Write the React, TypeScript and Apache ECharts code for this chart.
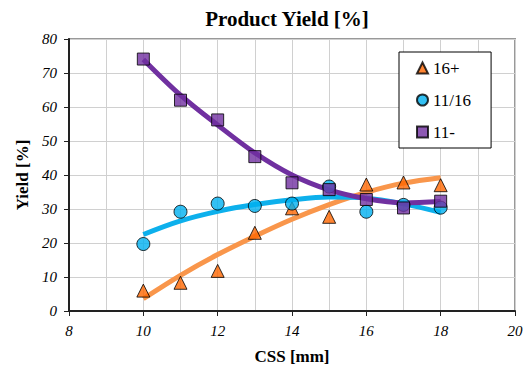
import React, { useEffect, useRef } from "react";
import * as echarts from "echarts";

const xValues = [10, 11, 12, 13, 14, 15, 16, 17, 18];
const seriesNames = ["16+", "11/16", "11-"];
const y16plus = [6, 8.3, 11.8, 23, 30.2, 27.7, 37.2, 37.8, 37];
const y11to16 = [19.7, 29.2, 31.6, 30.9, 31.6, 36.6, 29.2, 31.2, 30.4];
const y11minus = [74.1, 62, 56.2, 45.4, 37.7, 35.7, 32.8, 30.3, 32.3];
const trend16plus = [3.6, 10.5, 16.6, 22, 27, 31.3, 34.9, 37.6, 39.2];
const trend11to16 = [22.5, 26.5, 29.3, 31.3, 32.7, 33.5, 33.2, 31.5, 29];
const trend11minus = [74, 63.5, 54.7, 46.5, 40, 35.6, 33, 31.8, 32.2];
const xTicks = { min: 8, max: 20, step: 2 };
const yTicks = { min: 0, max: 80, step: 10 };

const FONT = "Liberation Serif";

const pairs = (ys: number[]) => xValues.map((x, i) => [x, ys[i]]);

export default function App() {
  const ref = useRef<HTMLDivElement>(null);
  useEffect(() => {
    if (!ref.current) return;
    const chart = echarts.init(ref.current, undefined, { renderer: "svg" });
    const markerColors = ["#FF6600", "#00B0F0", "#7030A0"];
    const trendColors = ["#F9964B", "#0DB0EC", "#7030A0"];
    const symbols = ["triangle", "circle", "rect"];
    const values = [y16plus, y11to16, y11minus];
    const trends = [trend16plus, trend11to16, trend11minus];

    const trendSeries = trends.map((t, i) => ({
      type: "line",
      name: seriesNames[i] + " trend",
      data: pairs(t),
      smooth: 0.35,
      showSymbol: false,
      symbol: "none",
      lineStyle: { width: 5, color: trendColors[i] },
      z: 2,
      silent: true,
    }));
    const markerSeries = values.map((v, i) => ({
      type: "scatter",
      name: seriesNames[i],
      data: pairs(v),
      symbol: symbols[i],
      symbolSize: i === 2 ? 12 : 13,
      itemStyle: { color: markerColors[i], borderColor: "#000", borderWidth: 1 },
      z: 3,
    }));

    chart.setOption({
      animation: false,
      backgroundColor: "#fff",
      textStyle: { fontFamily: FONT },
      graphic: [
        {
          type: "text",
          x: 287,
          y: 19,
          style: {
            text: "Product Yield [%]",
            fontFamily: FONT,
            fontSize: 21,
            fontWeight: "bold",
            fill: "#000",
            textAlign: "center",
            textVerticalAlign: "middle",
          },
        },
      ],
      grid: {
        left: 69,
        top: 39,
        right: 14,
        bottom: 55,
        show: true,
        containLabel: false,
        outerBoundsMode: "none",
        borderColor: "#999",
        borderWidth: 2,
        backgroundColor: "transparent",
      },
      legend: {
        orient: "vertical",
        left: 399,
        top: 52,
        padding: [7, 20, 7, 17],
        itemGap: 14,
        itemWidth: 11,
        itemHeight: 11,
        backgroundColor: "#fff",
        borderColor: "#000",
        borderWidth: 1,
        borderRadius: 0,
        data: seriesNames.map((n, i) => ({ name: n, icon: symbols[i] })),
        textStyle: { fontFamily: FONT, fontSize: 17, lineHeight: 18, color: "#000" },
      },
      xAxis: {
        type: "value",
        min: xTicks.min,
        max: xTicks.max,
        interval: xTicks.step,
        name: "CSS [mm]",
        nameLocation: "middle",
        nameGap: 37,
        nameTextStyle: { fontFamily: FONT, fontSize: 17, fontWeight: "bold", color: "#000" },
        axisLine: { show: true, onZero: false, lineStyle: { color: "#222", width: 2 } },
        axisTick: { show: true, inside: false, length: 5, lineStyle: { color: "#222" } },
        axisLabel: { fontFamily: FONT, fontSize: 15, fontStyle: "italic", color: "#000", margin: 12 },
        splitLine: { show: true, lineStyle: { color: "#d0d0d0", width: 1 } },
        minorTick: { show: false, splitNumber: 2 },
        minorSplitLine: { show: true, lineStyle: { color: "#d0d0d0", width: 1 } },
      },
      yAxis: {
        type: "value",
        min: yTicks.min,
        max: yTicks.max,
        interval: yTicks.step,
        name: "Yield [%]",
        nameLocation: "middle",
        nameGap: 37,
        nameTextStyle: { fontFamily: FONT, fontSize: 17, fontWeight: "bold", color: "#000" },
        axisLine: { show: true, onZero: false, lineStyle: { color: "#222", width: 2 } },
        axisTick: { show: true, inside: false, length: 5, lineStyle: { color: "#222" } },
        axisLabel: { fontFamily: FONT, fontSize: 15, fontStyle: "italic", color: "#000", margin: 12 },
        splitLine: { show: true, lineStyle: { color: "#d0d0d0", width: 1 } },
      },
      series: [...trendSeries, ...markerSeries],
    });
    return () => chart.dispose();
  }, []);
  return (
    <div
      ref={ref}
      style={{ position: "fixed", left: 0, top: 0, width: 529, height: 366 }}
    />
  );
}
